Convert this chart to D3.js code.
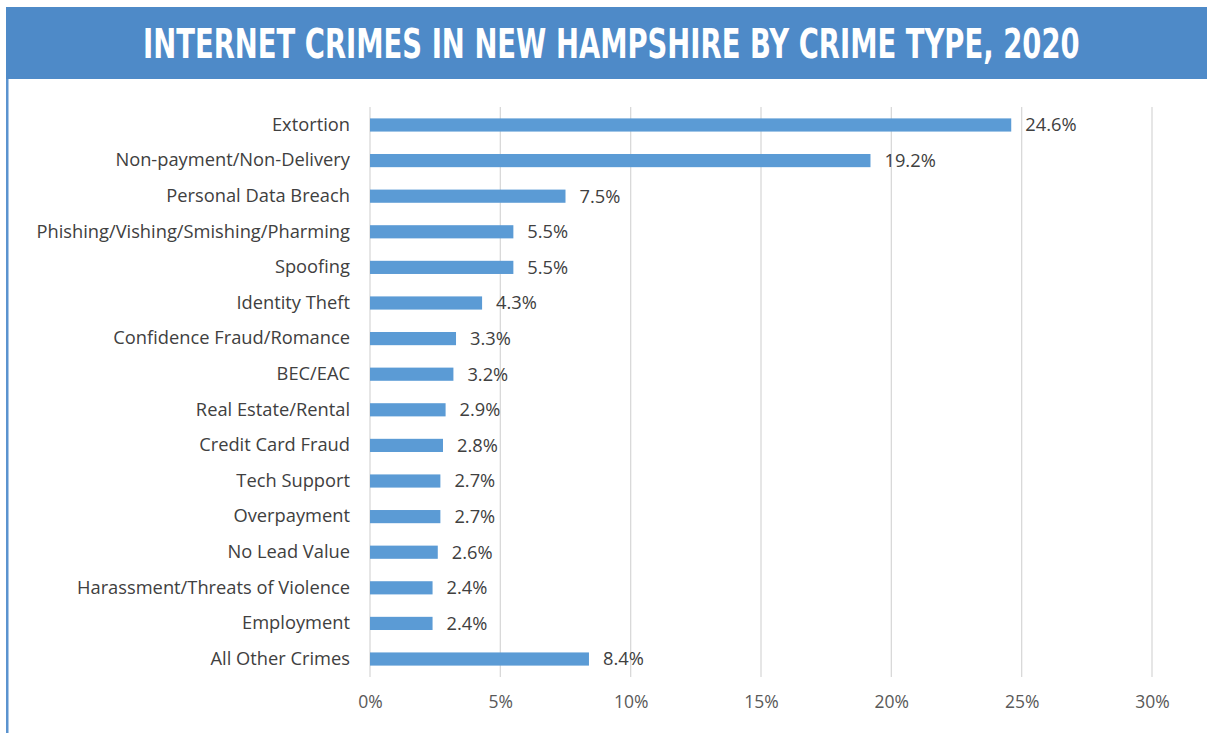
<!DOCTYPE html>
<html>
<head>
<meta charset="utf-8">
<script src="https://cdn.jsdelivr.net/npm/d3@7"></script>
<style>
  body { margin: 0; background: #fff; }
  svg { display: block; }
</style>
</head>
<body>
<svg id="chart"></svg>
<script>
const title = "INTERNET CRIMES IN NEW HAMPSHIRE BY CRIME TYPE, 2020";
const categories = [
  "Extortion", "Non-payment/Non-Delivery", "Personal Data Breach",
  "Phishing/Vishing/Smishing/Pharming", "Spoofing", "Identity Theft",
  "Confidence Fraud/Romance", "BEC/EAC", "Real Estate/Rental",
  "Credit Card Fraud", "Tech Support", "Overpayment", "No Lead Value",
  "Harassment/Threats of Violence", "Employment", "All Other Crimes"
];
const values = [24.6, 19.2, 7.5, 5.5, 5.5, 4.3, 3.3, 3.2, 2.9, 2.8, 2.7, 2.7, 2.6, 2.4, 2.4, 8.4];
const ticks = [0, 5, 10, 15, 20, 25, 30];

const width = 1207, height = 733;
const svg = d3.select('#chart').attr('width', width).attr('height', height);
const font = '"Open Sans", sans-serif';

// header band + left border
svg.append('rect').attr('x', 6).attr('y', 7).attr('width', width - 6).attr('height', 72).attr('fill', '#4E8AC8');
svg.append('rect').attr('x', 6).attr('y', 79).attr('width', 2.5).attr('height', height - 79).attr('fill', '#5B93CF');

// title, squeezed horizontally to the reference width
const titleG = svg.append('g');
const titleText = titleG.append('text')
  .attr('x', 0).attr('y', 0)
  .attr('font-family', '"DejaVu Sans Condensed", "DejaVu Sans", sans-serif')
  .attr('font-weight', 'bold').attr('font-size', 40)
  .attr('fill', '#fff')
  .text(title);
const natural = titleText.node().getComputedTextLength();
titleG.attr('transform', `translate(143,58) scale(${937 / natural},1)`);

const x = d3.scaleLinear().domain([0, 30]).range([370, 1152]);
const y = d3.scaleBand().domain(categories).range([107, 677]).paddingInner(0.63).paddingOuter(0.32);

// gridlines
svg.append('g').selectAll('line').data(ticks).enter().append('line')
  .attr('x1', d => x(d)).attr('x2', d => x(d))
  .attr('y1', 107).attr('y2', 677)
  .attr('stroke', '#d9d9d9').attr('stroke-width', 1.3);

// x axis labels
const xAxis = d3.axisBottom(x).tickValues(ticks).tickSize(0).tickFormat(d => d + '%');
const gx = svg.append('g').attr('transform', 'translate(0,693)').call(xAxis);
gx.select('.domain').remove();
gx.selectAll('text').attr('font-family', font).attr('font-size', 17.5).attr('fill', '#595959');

// y axis labels
const yAxis = d3.axisLeft(y).tickSize(0).tickPadding(20);
const gy = svg.append('g').attr('transform', 'translate(370,0)').call(yAxis);
gy.select('.domain').remove();
gy.selectAll('text').attr('font-family', font).attr('font-size', 18.3).attr('fill', '#404040');

// bars
svg.append('g').selectAll('rect').data(values).enter().append('rect')
  .attr('x', x(0))
  .attr('y', (d, i) => y(categories[i]))
  .attr('width', d => x(d) - x(0))
  .attr('height', y.bandwidth())
  .attr('fill', '#5B9BD5');

// value labels
svg.append('g').selectAll('text').data(values).enter().append('text')
  .attr('x', d => x(d) + 14)
  .attr('y', (d, i) => y(categories[i]) + y.bandwidth() / 2)
  .attr('dy', '0.35em')
  .attr('font-family', font).attr('font-size', 18.3)
  .attr('fill', '#404040')
  .text(d => d.toFixed(1) + '%');
</script>
</body>
</html>
